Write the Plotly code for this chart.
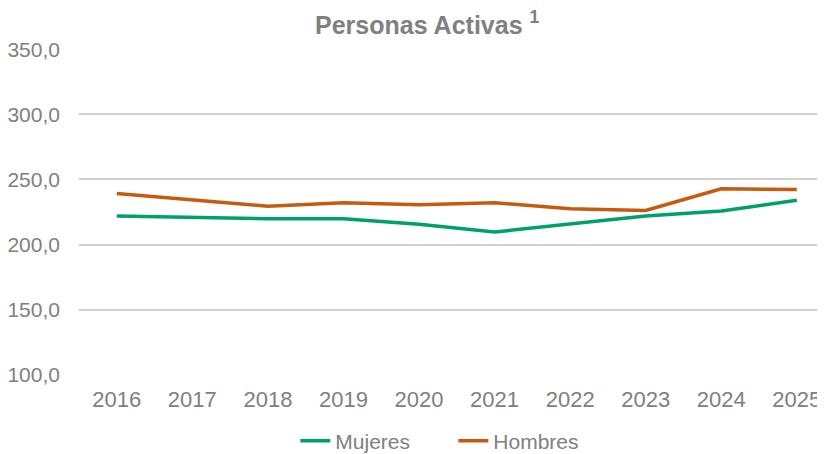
import plotly.graph_objects as go

years = ["2016", "2017", "2018", "2019", "2020", "2021", "2022", "2023", "2024", "2025"]
mujeres = [221.9, 221.0, 219.9, 219.9, 215.5, 209.6, 215.5, 221.9, 225.7, 234.1]
hombres = [239.3, 234.7, 229.5, 232.1, 230.6, 232.1, 227.5, 226.2, 242.9, 242.3]

GRAY = "#808080"
FONT = "Liberation Sans, Arial, sans-serif"

fig = go.Figure()
fig.add_trace(go.Scatter(x=years, y=mujeres, name="Mujeres", mode="lines",
                         line=dict(color="#00A06B", width=3.5)))
fig.add_trace(go.Scatter(x=years, y=hombres, name="Hombres", mode="lines",
                         line=dict(color="#C55A11", width=3.5)))

# the page body has an 8px margin, so the figure is 8px smaller and offset
fig.update_layout(
    width=817, height=446,
    paper_bgcolor="white", plot_bgcolor="white",
    margin=dict(l=71, r=0, t=41, b=79, autoexpand=False),
    separators=",.",
    font=dict(family=FONT, color=GRAY, size=22),
    title=dict(text="<b>Personas Activas <sup>1</sup></b>", x=0.513, xanchor="center",
               y=0.962, yanchor="middle", font=dict(size=25, color=GRAY)),
    showlegend=True,
    legend=dict(orientation="h", x=0.29, xanchor="left", y=-0.203, yanchor="middle",
                font=dict(size=21, color=GRAY), entrywidth=113, traceorder="normal"),
    xaxis=dict(type="category", range=[-0.5, 9.373], showgrid=False, showline=False,
               automargin=False, ticks="", ticklabelstandoff=9,
               tickfont=dict(size=22, color=GRAY)),
    yaxis=dict(range=[99.7, 350.3], dtick=50, tickformat=".1f", showgrid=True,
               gridcolor="#D0D0D0", gridwidth=1.5, zeroline=False, showline=False,
               automargin=False, ticks="", ticklabelstandoff=18,
               tickfont=dict(size=21, color=GRAY)),
)

fig.write_html("out.html")
